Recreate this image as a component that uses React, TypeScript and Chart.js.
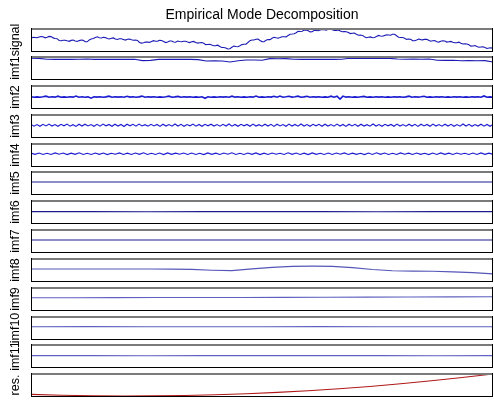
import React, { useEffect, useRef } from 'react';
import { Chart, registerables } from 'chart.js';

Chart.register(...registerables);

// ---- data -------------------------------------------------------------

const TITLE = 'Empirical Mode Decomposition';

const PANEL_LABELS = [
  'signal', 'imf1', 'imf2', 'imf3', 'imf4', 'imf5', 'imf6',
  'imf7', 'imf8', 'imf9', 'imf10', 'imf11', 'res.',
];

const signal = [
  1307, 1318, 1315, 1312, 1320, 1325, 1322, 1312, 1318, 1326,
  1324, 1311, 1305, 1303, 1285, 1282, 1288, 1288, 1282, 1277,
  1286, 1290, 1280, 1276, 1284, 1290, 1288, 1272, 1272, 1291,
  1300, 1304, 1315, 1322, 1312, 1310, 1317, 1314, 1305, 1300,
  1308, 1311, 1300, 1295, 1302, 1303, 1296, 1289, 1298, 1300,
  1292, 1287, 1290, 1286, 1265, 1259, 1262, 1269, 1270, 1266,
  1275, 1283, 1277, 1277, 1288, 1285, 1274, 1264, 1270, 1280,
  1280, 1270, 1268, 1280, 1275, 1272, 1278, 1277, 1270, 1264,
  1272, 1276, 1266, 1259, 1263, 1265, 1258, 1244, 1245, 1248,
  1240, 1233, 1234, 1238, 1225, 1215, 1215, 1211, 1200, 1202,
  1218, 1229, 1225, 1223, 1232, 1244, 1247, 1248, 1265, 1283,
  1290, 1290, 1297, 1299, 1285, 1274, 1273, 1287, 1295, 1294,
  1307, 1317, 1312, 1308, 1315, 1323, 1323, 1321, 1335, 1348,
  1350, 1353, 1363, 1377, 1375, 1378, 1390, 1389, 1382, 1371,
  1373, 1386, 1385, 1382, 1390, 1396, 1394, 1388, 1397, 1399,
  1392, 1385, 1385, 1391, 1380, 1373, 1375, 1373, 1365, 1354,
  1357, 1360, 1348, 1338, 1340, 1336, 1323, 1313, 1318, 1321,
  1313, 1315, 1325, 1336, 1330, 1328, 1336, 1341, 1340, 1337,
  1347, 1347, 1332, 1318, 1315, 1315, 1307, 1296, 1300, 1297,
  1283, 1283, 1290, 1300, 1294, 1291, 1297, 1296, 1288, 1278,
  1282, 1285, 1273, 1269, 1277, 1283, 1280, 1269, 1273, 1276,
  1268, 1262, 1263, 1269, 1258, 1250, 1252, 1250, 1242, 1229,
  1230, 1235, 1225, 1217, 1220, 1222, 1215, 1205, 1210, 1213,
  1205,
];

const imf1 = [
  0.04, 0.03, -0.01, -0.02, -0.01, -0.02, -0.01, 0.0, -0.02, -0.01,
  -0.02, -0.01, -0.02, -0.01, -0.08, -0.07, -0.02, -0.01, -0.02, -0.01,
  -0.02, -0.03, -0.1, -0.09, -0.1, -0.15, -0.09, -0.05, -0.05, -0.06,
  0.02, 0.01, 0.02, -0.01, -0.02, -0.01, -0.02, -0.01, -0.02, -0.01,
  0.04, 0.03, 0.04, 0.03, 0.04, 0.03, 0.0, -0.01, 0.0, -0.01,
  0.0, -0.06, -0.07, -0.06, -0.09, -0.08, -0.09, -0.08, -0.15,
];

const imf2 = [
  0.03, -0.03, 0.02, -0.03, 0.03, 0.12, -0.03, 0.03, -0.02, 0.12,
  -0.03, 0.02, -0.03, 0.03, -0.02, 0.13, -0.03, 0.03, -0.03, 0.02,
  -0.18, 0.03, -0.02, 0.03, -0.03, 0.02, 0.12, -0.03, 0.03, -0.02,
  0.03, -0.03, 0.1, -0.02, 0.03, -0.03, 0.02, 0.13, -0.03, 0.03,
  -0.02, 0.03, -0.03, 0.02, -0.03, 0.03, 0.12, -0.03, 0.02, 0.09,
  -0.03, 0.03, -0.02, 0.03, -0.03, 0.02, -0.03, 0.03, -0.18, 0.03,
  -0.03, 0.02, -0.03, 0.03, -0.02, 0.03, -0.03, 0.12, -0.02, 0.03,
  -0.03, 0.02, -0.03, 0.03, -0.02, 0.13, -0.03, 0.02, -0.03, 0.03,
  -0.02, 0.11, -0.03, 0.13, -0.03, 0.03, 0.11, -0.02, 0.03, 0.12,
  -0.03, 0.02, 0.1, -0.03, 0.03, -0.02, 0.03, -0.03, 0.02, -0.03,
  0.12, -0.03, 0.11, -0.3, 0.13, -0.02, 0.03, -0.03, 0.02, -0.03,
  0.03, 0.09, -0.03, 0.02, -0.03, 0.03, -0.02, 0.03, -0.03, 0.02,
  -0.03, 0.03, -0.02, 0.03, -0.03, 0.02, 0.12, -0.03, 0.03, -0.02,
  0.03, 0.11, -0.03, 0.02, -0.03, 0.03, -0.02, 0.03, -0.03, 0.02,
  -0.03, 0.03, -0.02, 0.03, -0.03, 0.02, -0.03, 0.03, -0.02, 0.03,
  -0.03, 0.15, -0.03, 0.02, -0.03,
];

const imf3 = [
  0.1, -0.12, 0.08, -0.14, 0.12, -0.09, 0.15, -0.11, 0.09, -0.13,
  0.11, -0.08, 0.14, -0.12, 0.07, -0.15, 0.12, -0.1, 0.13, -0.09,
  0.08, -0.14, 0.11, -0.12, 0.15, -0.07, 0.1, -0.13, 0.12, -0.11,
  0.09, -0.16, 0.13, -0.08, 0.11, -0.12, 0.14, -0.1, 0.07, -0.13,
  0.12, -0.09, 0.1, -0.15, 0.13, -0.11, 0.08, -0.12, 0.15, -0.1,
  0.11, -0.13, 0.09, -0.08, 0.14, -0.12, 0.1, -0.14, 0.12, -0.07,
  0.13, -0.11, 0.08, -0.13, 0.11, -0.1, 0.15, -0.12, 0.09, -0.14,
  0.12, -0.08, 0.1, -0.13, 0.14, -0.11, 0.07, -0.12, 0.13, -0.1,
  0.11, -0.15, 0.12, -0.09, 0.08, -0.13, 0.14, -0.11, 0.1, -0.12,
  0.15, -0.1, 0.09, -0.14, 0.12, -0.08, 0.11, -0.13, 0.13, -0.11,
  0.08, -0.12, 0.14, -0.1, 0.1, -0.15, 0.12, -0.09, 0.11, -0.13,
  0.13, -0.11, 0.07, -0.12, 0.15, -0.1, 0.09, -0.14, 0.12, -0.08,
  0.1, -0.13, 0.14, -0.11, 0.08, -0.12, 0.13, -0.1, 0.11, -0.15,
  0.12, -0.09, 0.1, -0.13, 0.14, -0.11, 0.09, -0.12, 0.13, -0.1,
  0.11, -0.14, 0.08, -0.12, 0.15, -0.1, 0.12, -0.13, 0.09, -0.11,
  0.13, -0.12, 0.1, -0.14, 0.11,
];

const imf4 = [
  0.12, -0.02, 0.14, -0.04, 0.11, -0.03, 0.15, -0.01, 0.13, -0.05,
  0.12, -0.02, 0.16, -0.03, 0.1, -0.04, 0.14, -0.02, 0.13, -0.05,
  0.11, -0.01, 0.15, -0.04, 0.12, -0.03, 0.14, -0.02, 0.16, -0.04,
  0.1, -0.03, 0.13, -0.05, 0.15, -0.02, 0.12, -0.01, 0.14, -0.04,
  0.13, -0.03, 0.11, -0.05, 0.15, -0.02, 0.12, -0.04, 0.14, -0.01,
  0.16, -0.03, 0.1, -0.04, 0.13, -0.02, 0.15, -0.05, 0.12, -0.03,
  0.14, -0.01, 0.11, -0.04, 0.16, -0.02, 0.13, -0.03, 0.12, -0.05,
  0.15, -0.02, 0.1, -0.04, 0.14, -0.03, 0.13, -0.01, 0.15, -0.04,
  0.12, -0.02, 0.11, -0.05, 0.14, -0.03, 0.16, -0.02, 0.13, -0.04,
  0.1, -0.03, 0.15, -0.01, 0.12, -0.04, 0.14, -0.02, 0.11, -0.05,
  0.13, -0.03, 0.15, -0.02, 0.12, -0.04, 0.14, -0.01, 0.1, -0.03,
  0.13, -0.04, 0.15, -0.02, 0.12, -0.03,
];

const imf5 = [0.09, 0.091, 0.089, 0.09, 0.092, 0.09, 0.088, 0.09, 0.09];
const imf6 = [0.03, 0.031, 0.029, 0.03, 0.032, 0.03, 0.028, 0.03, 0.03];
const imf7 = [0.09, 0.089, 0.091, 0.09, 0.088, 0.09, 0.092, 0.09, 0.09];

const imf8 = [
  0.09, 0.09, 0.09, 0.09, 0.09, 0.09, 0.09, 0.08, 0.06, -0.02,
  -0.06, 0.1, 0.24, 0.33, 0.35, 0.33, 0.22, 0.05, -0.07, -0.1,
  -0.12, -0.17, -0.24, -0.35,
];

const imf9 = [0.12, 0.12, 0.125, 0.13, 0.135, 0.14, 0.15, 0.16, 0.17, 0.18, 0.19, 0.2];
const imf10 = [0.12, 0.121, 0.119, 0.12, 0.12, 0.122, 0.12, 0.118, 0.12];
const imf11 = [0.03, 0.031, 0.029, 0.03, 0.03, 0.032, 0.03, 0.028, 0.03];

const residual = [
  1.23, 1.214, 1.204, 1.2, 1.202, 1.209, 1.222, 1.241,
  1.266, 1.296, 1.333, 1.374, 1.422, 1.476, 1.535, 1.6,
];

const SERIES = [
  signal, imf1, imf2, imf3, imf4, imf5, imf6,
  imf7, imf8, imf9, imf10, imf11, residual,
];

const Y_LIMITS: [number, number][] = [
  [1180, 1400], [-1.0, 0.1], [-1.6, 1.6], [-1.5, 1.3], [-1.4, 1.2], [-1, 1], [-1, 1],
  [-1, 1], [-1, 1], [-1, 1], [-1, 1], [-1, 1], [1.2, 1.6],
];

// ---- layout & style ---------------------------------------------------

const WIDTH = 494;
const AXIS_WIDTH = 31;
const PANEL_TOPS = [29, 57, 86, 115, 144, 172, 201, 230, 259, 288, 317, 345, 374];
const PANEL_H = 22;
const OVERHANG = 20;
const FONT = 'Liberation Sans, Arial, Helvetica, sans-serif';
const LABEL_SIZE = 12.5;
const TITLE_SIZE = 14;

const LINE_COLORS = [
  '#1a1ab4', '#1a1ab4', '#1a1ad0', '#1a1ad0', '#1a1ad0', '#1c1c90', '#1c1c90',
  '#1c1c90', '#5656b8', '#6060c0', '#6060c0', '#6060c0', '#b01818',
];
const LINE_WIDTHS = [1.1, 1.1, 1.6, 1.1, 1.1, 1.1, 1.1, 1.1, 1.1, 1.1, 1.1, 1.1, 1.1];

const boxPlugin = {
  id: 'emdBox',
  afterDatasetsDraw(chart: Chart) {
    const { ctx, chartArea } = chart;
    const { left, top, right, bottom } = chartArea;
    ctx.save();
    ctx.fillStyle = '#7a7a7a';
    ctx.fillRect(left, top - 1, right - left, 2);
    ctx.fillStyle = '#000';
    ctx.fillRect(left, bottom, right - left, 1);
    ctx.fillRect(left, top - 1, 1, bottom - top + 2);
    ctx.fillRect(right - 1, top - 1, 1, bottom - top + 2);
    ctx.restore();
  },
};

function Panel({ index }: { index: number }) {
  const ref = useRef<HTMLCanvasElement | null>(null);
  const first = index === 0;
  const canvasTop = first ? 0 : PANEL_TOPS[index] - OVERHANG;
  const canvasH = PANEL_TOPS[index] + PANEL_H + OVERHANG - canvasTop;

  useEffect(() => {
    if (!ref.current) return;
    const values = SERIES[index];
    const [yMin, yMax] = Y_LIMITS[index];
    const titleLine = TITLE_SIZE * 1.2;
    const chart = new Chart(ref.current, {
      type: 'line',
      data: {
        datasets: [
          {
            data: values.map((v, i) => ({ x: i / (values.length - 1), y: v })),
            borderColor: LINE_COLORS[index],
            borderWidth: LINE_WIDTHS[index],
            pointRadius: 0,
            tension: 0,
            clip: index === 12 ? false : undefined,
          },
        ],
      },
      options: {
        responsive: false,
        maintainAspectRatio: false,
        animation: false,
        events: [],
        layout: {
          padding: {
            top: first ? 0 : OVERHANG,
            bottom: OVERHANG,
            left: 0,
            right: 1,
          },
        },
        plugins: {
          legend: { display: false },
          tooltip: { enabled: false },
          title: {
            display: first,
            text: TITLE,
            color: '#000',
            fullSize: false,
            font: { family: FONT, size: TITLE_SIZE, weight: 'normal' },
            padding: { top: 7, bottom: PANEL_TOPS[0] - 7 - titleLine },
          },
        },
        scales: {
          x: { type: 'linear', min: 0, max: 1, display: false },
          y: {
            type: 'linear',
            min: yMin,
            max: yMax,
            afterFit: (scale: any) => {
              scale.width = AXIS_WIDTH;
            },
            ticks: { display: false },
            grid: { display: false, drawTicks: false },
            border: { display: false },
            title: {
              display: true,
              text: PANEL_LABELS[index],
              color: '#000',
              font: { family: FONT, size: LABEL_SIZE, weight: 'normal' },
              padding: { top: 8, bottom: 0 },
            },
          },
        },
      },
      plugins: [boxPlugin],
    });
    return () => chart.destroy();
  }, [index]);

  return (
    <canvas
      ref={ref}
      width={WIDTH}
      height={canvasH}
      style={{ position: 'absolute', left: 0, top: canvasTop, width: WIDTH, height: canvasH }}
    />
  );
}

export default function App() {
  return (
    <div
      style={{
        position: 'fixed',
        left: 0,
        top: 0,
        width: WIDTH,
        height: 400,
        background: '#fff',
        overflow: 'hidden',
      }}
    >
      {PANEL_LABELS.map((_, i) => (
        <Panel key={i} index={i} />
      ))}
    </div>
  );
}
